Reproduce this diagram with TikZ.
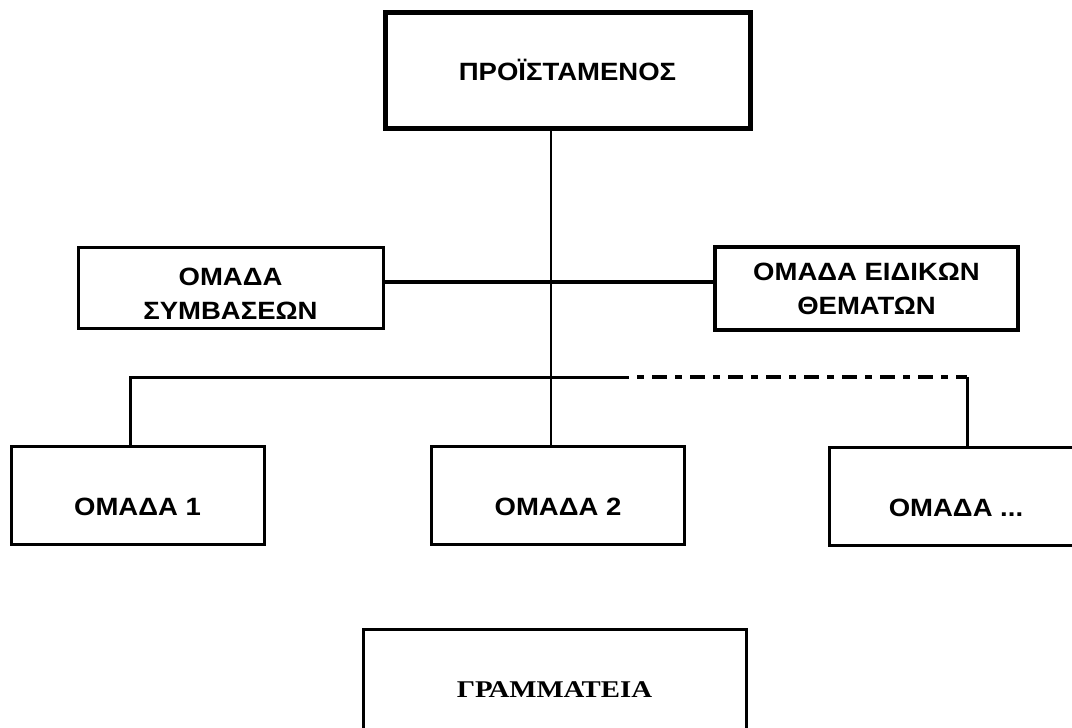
\documentclass[tikz,border=0pt]{standalone}
\usepackage{fontspec}
\setmainfont{Liberation Sans}[FakeStretch=1.1]
\newfontfamily\grserif{Liberation Serif}[FakeStretch=1.2]
\usetikzlibrary{positioning}

\begin{document}
\begin{tikzpicture}[x=1pt,y=-1pt,
        unitbox/.style={draw, line width=3pt, inner sep=2pt, align=center,
            font=\bfseries\fontsize{25}{34}\selectfont},
        teambox/.style={unitbox, minimum width=253pt, minimum height=98pt,
            text height=40pt, text depth=0pt},
        link/.style={line width=3pt},
        dashdot/.style={line width=4pt, dash pattern=on 7pt off 8pt on 15pt off 8pt, dash phase=30pt}]
        % page frame in pixel units
        \useasboundingbox[fill=white] (0,0) rectangle (1072,728);

        % draw the boxes
        \node[unitbox, line width=5pt, minimum width=365pt, minimum height=116pt] (head) at (567.5,70) {ΠΡΟΪΣΤΑΜΕΝΟΣ};
        \node[unitbox, minimum width=305pt, minimum height=81pt, text height=64pt, text depth=0pt] (contracts) at (230.5,287.5) {ΟΜΑΔΑ\\ΣΥΜΒΑΣΕΩΝ};
        \node[unitbox, line width=4pt, minimum width=303pt, minimum height=83pt] (special) at (866.5,288.5) {ΟΜΑΔΑ ΕΙΔΙΚΩΝ\\ΘΕΜΑΤΩΝ};
        \node[teambox] (team1) at (137.5,495) {ΟΜΑΔΑ 1};
        \node[teambox] (team2) at (558,495.5) {ΟΜΑΔΑ 2};
        \node[teambox] (teamN) at (956,496.5) {ΟΜΑΔΑ ...};
        \node[unitbox, minimum width=383pt, minimum height=122pt, font=\grserif\bfseries\fontsize{24}{28}\selectfont] (secr) at (554.5,690) {ΓΡΑΜΜΑΤΕΙΑ};

        % define named coordinates for the joints
        \coordinate (hub) at (551,282);
        \coordinate (busL) at (130,377);
        \coordinate (busM) at (629,377);
        \coordinate (busR) at (967,377);

        % draw the connectors
        \draw[line width=2pt] (head.south -| hub) -- (team2.north -| hub);
        \draw[line width=4pt] (contracts.east |- hub) -- (special.west |- hub);
        \draw[link] (team1.north -| busL) -- (busL) -- (busM);
        \draw[dashdot] (busM) -- (busR);
        \draw[link] (busR) -- (busR |- teamN.north);

    \end{tikzpicture}
\end{document}
